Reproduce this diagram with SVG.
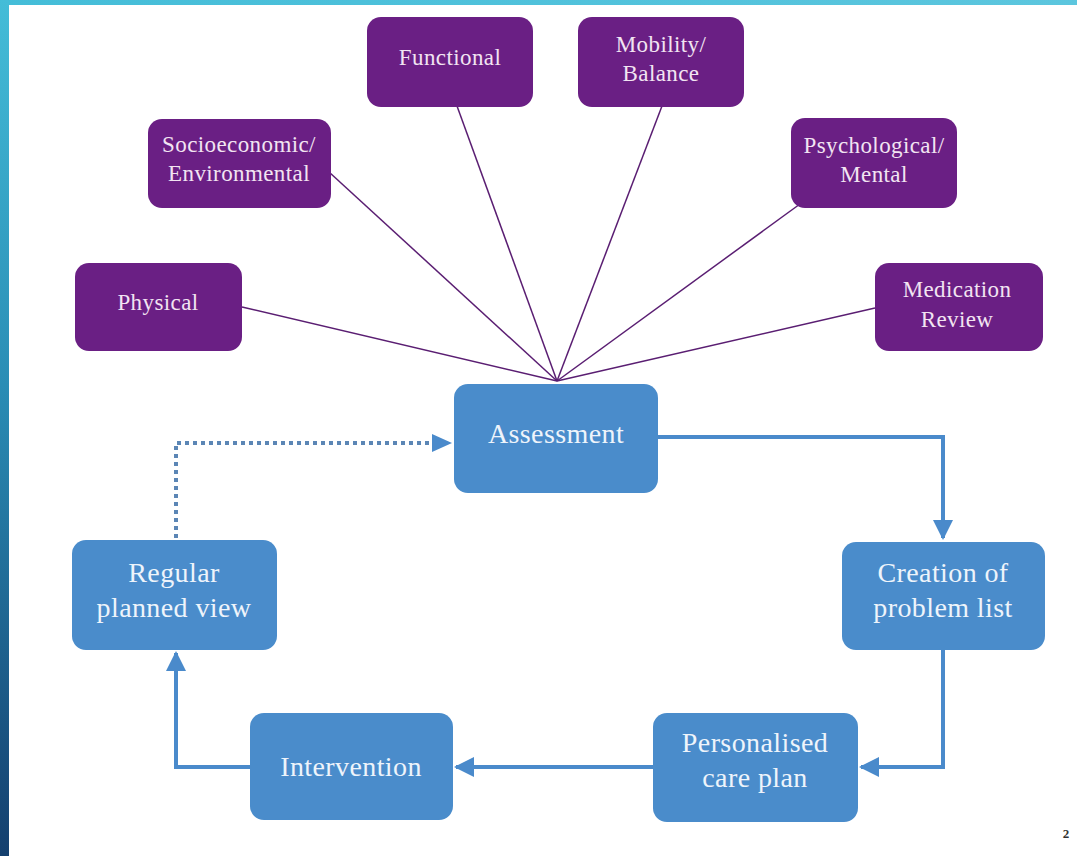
<svg xmlns="http://www.w3.org/2000/svg" width="1077" height="856" viewBox="0 0 1077 856">
<defs>
<linearGradient id="leftbar" x1="0" y1="0" x2="0" y2="1">
<stop offset="0" stop-color="#44BDD8"/>
<stop offset="0.45" stop-color="#2A8DB5"/>
<stop offset="1" stop-color="#143F6E"/>
</linearGradient>
<linearGradient id="topbar" x1="0" y1="0" x2="1" y2="0">
<stop offset="0" stop-color="#44BDD8"/>
<stop offset="1" stop-color="#5CC6DE"/>
</linearGradient>
<marker id="arr" viewBox="0 0 10 10" refX="9" refY="5" markerWidth="5" markerHeight="5" orient="auto" markerUnits="strokeWidth">
<path d="M0,0 L10,5 L0,10 z" fill="#4A8ACB"/>
</marker>
<style>
.p{fill:#6A1F84;}
.b{fill:#4A8CCB;}
.pt{font-family:"Liberation Serif","Times New Roman",serif;font-size:23px;letter-spacing:0.4px;fill:#F2E4F2;text-anchor:middle;}
.bt{font-family:"Liberation Serif","Times New Roman",serif;font-size:28px;letter-spacing:0.4px;fill:#EEF4FB;text-anchor:middle;}
.pl{stroke:#5A1E72;stroke-width:1.5;fill:none;}
.bl{stroke:#4A8ACB;stroke-width:4;fill:none;}
.dl{stroke:#5B86B5;stroke-width:4;fill:none;stroke-dasharray:4 4;}
</style>
</defs>
<rect x="0" y="0" width="1077" height="856" fill="#FFFFFF"/>
<rect x="0" y="0" width="1077" height="5" fill="url(#topbar)"/>
<rect x="0" y="0" width="9" height="856" fill="url(#leftbar)"/>

<g id="connectors">
<line class="pl" x1="242" y1="307" x2="557" y2="381"/>
<line class="pl" x1="329" y1="172" x2="557" y2="381"/>
<line class="pl" x1="457" y1="106" x2="557" y2="381"/>
<line class="pl" x1="662" y1="106" x2="557" y2="381"/>
<line class="pl" x1="800" y1="204" x2="557" y2="381"/>
<line class="pl" x1="875" y1="308" x2="557" y2="381"/>
<polyline class="bl" points="658,437 943,437 943,538" marker-end="url(#arr)"/>
<polyline class="bl" points="943,650 943,767 861,767" marker-end="url(#arr)"/>
<line class="bl" x1="653" y1="767" x2="456" y2="767" marker-end="url(#arr)"/>
<polyline class="bl" points="250,767 176,767 176,653" marker-end="url(#arr)"/>
<polyline class="dl" points="176,538 176,443 440,443"/>
<path d="M432,434 L452,443 L432,452 z" fill="#4A8ACB"/>
</g>

<g id="functional"><rect class="p" x="367" y="17" width="166" height="90" rx="14"/><text class="pt" x="450" y="65">Functional</text></g>
<g id="mobility"><rect class="p" x="578" y="17" width="166" height="90" rx="14"/><text class="pt" x="661" y="52">Mobility/</text><text class="pt" x="661" y="81">Balance</text></g>
<g id="socioeconomic"><rect class="p" x="148" y="119" width="183" height="89" rx="14"/><text class="pt" x="239" y="152">Socioeconomic/</text><text class="pt" x="239" y="181">Environmental</text></g>
<g id="psychological"><rect class="p" x="791" y="118" width="166" height="90" rx="14"/><text class="pt" x="874" y="153">Psychological/</text><text class="pt" x="874" y="182">Mental</text></g>
<g id="physical"><rect class="p" x="75" y="263" width="167" height="88" rx="14"/><text class="pt" x="158" y="310">Physical</text></g>
<g id="medication"><rect class="p" x="875" y="263" width="168" height="88" rx="14"/><text class="pt" x="957" y="297">Medication</text><text class="pt" x="957" y="327">Review</text></g>

<g id="assessment"><rect class="b" x="454" y="384" width="204" height="109" rx="14"/><text class="bt" x="556" y="443">Assessment</text></g>
<g id="creation"><rect class="b" x="842" y="542" width="203" height="108" rx="14"/><text class="bt" x="943" y="582">Creation of</text><text class="bt" x="943" y="617">problem list</text></g>
<g id="personalised"><rect class="b" x="653" y="713" width="205" height="109" rx="14"/><text class="bt" x="755" y="752">Personalised</text><text class="bt" x="755" y="787">care plan</text></g>
<g id="intervention"><rect class="b" x="250" y="713" width="203" height="107" rx="14"/><text class="bt" x="351" y="776">Intervention</text></g>
<g id="regular"><rect class="b" x="72" y="540" width="205" height="110" rx="14"/><text class="bt" x="174" y="582">Regular</text><text class="bt" x="174" y="617">planned view</text></g>

<text x="1066" y="838" font-family="Liberation Serif, serif" font-size="13" font-weight="bold" fill="#333333" text-anchor="middle">2</text>
</svg>
